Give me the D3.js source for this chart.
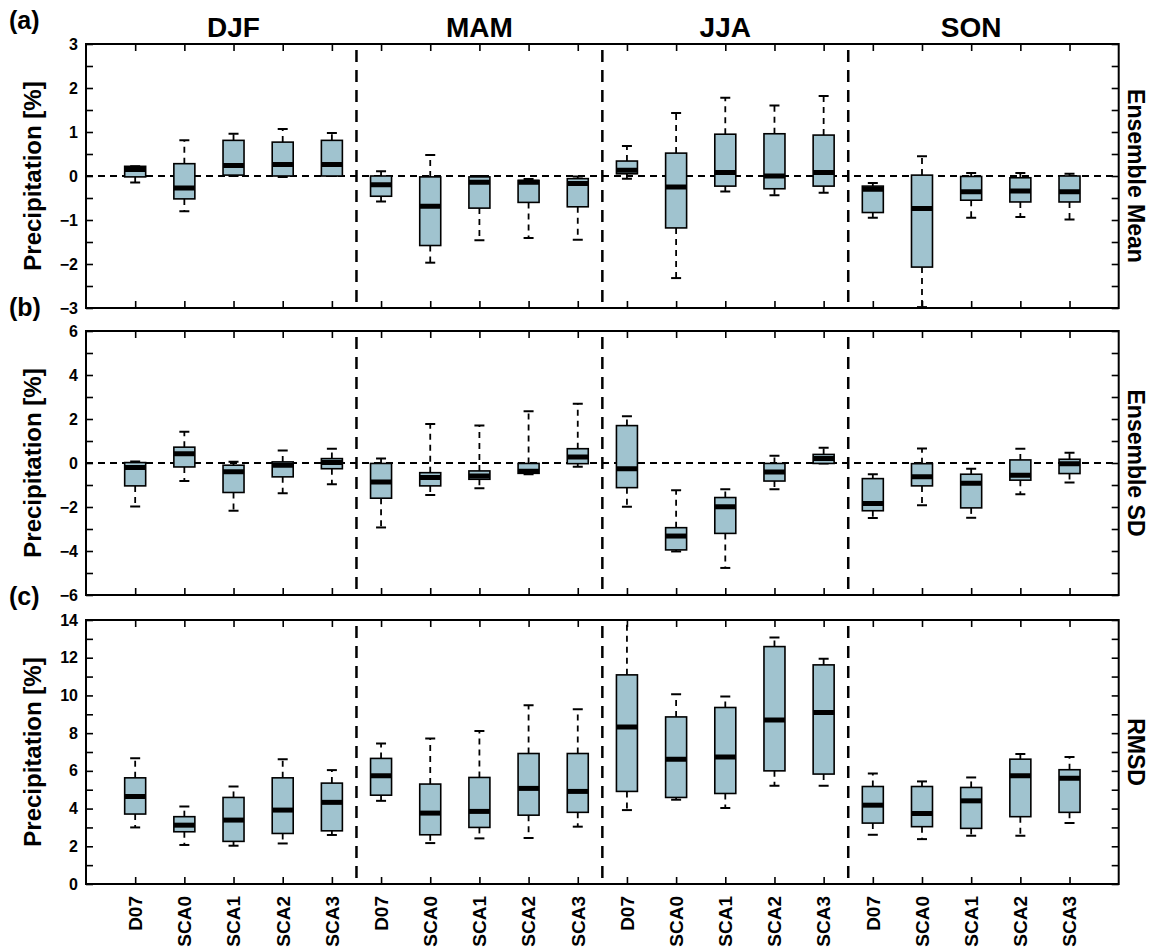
<!DOCTYPE html>
<html>
<head>
<meta charset="utf-8">
<script src="https://cdn.jsdelivr.net/npm/d3@7"></script>
<style>
  body { margin: 0; background: #fff; }
  svg text { font-family: "Liberation Sans", Arial, Helvetica, sans-serif; }
</style>
</head>
<body>
<svg id="chart" width="1151" height="948"></svg>
<script>
// models inside each season, seasons across the panel
var models = ["D07", "SCA0", "SCA1", "SCA2", "SCA3"];
var seasons = ["DJF", "MAM", "JJA", "SON"];
var panelTags = ["(a)", "(b)", "(c)"];
var sideLabels = ["Ensemble Mean", "Ensemble SD", "RMSD"];
var yTitle = "Precipitation [%]";

var ticksA = [-3, -2, -1, 0, 1, 2, 3];
var minorA = [-2.5, -1.5, -0.5, 0.5, 1.5, 2.5];
var ticksB = [-6, -4, -2, 0, 2, 4, 6];
var minorB = [-5, -3, -1, 1, 3, 5];
var ticksC = [0, 2, 4, 6, 8, 10, 12, 14];
var minorC = [1, 3, 5, 7, 9, 11, 13];

// each row: [min, q1, median, q3, max], DJF..SON x D07..SCA3
var ensMean = [
    [-0.15, -0.02, 0.15, 0.22, 0.22],
    [-0.80, -0.52, -0.27, 0.28, 0.81],
    [0.00, 0.02, 0.24, 0.81, 0.96],
    [-0.02, 0.00, 0.26, 0.77, 1.07],
    [0.00, 0.00, 0.26, 0.81, 0.98],

    [-0.58, -0.46, -0.20, 0.00, 0.11],
    [-1.97, -1.58, -0.69, -0.02, 0.48],
    [-1.46, -0.73, -0.14, -0.02, 0.00],
    [-1.41, -0.60, -0.14, -0.10, -0.07],
    [-1.45, -0.70, -0.17, -0.06, -0.01],

    [-0.06, 0.05, 0.13, 0.34, 0.68],
    [-2.32, -1.18, -0.25, 0.52, 1.43],
    [-0.35, -0.23, 0.08, 0.95, 1.78],
    [-0.44, -0.29, 0.00, 0.96, 1.60],
    [-0.38, -0.23, 0.08, 0.93, 1.82],

    [-0.95, -0.83, -0.30, -0.23, -0.16],
    [-2.98, -2.07, -0.74, 0.02, 0.45],
    [-0.95, -0.55, -0.36, -0.01, 0.07],
    [-0.93, -0.59, -0.34, -0.04, 0.07],
    [-0.99, -0.59, -0.36, 0.00, 0.05]
];

var ensSD = [
    [-1.98, -1.04, -0.21, 0.02, 0.07],
    [-0.82, -0.18, 0.42, 0.72, 1.42],
    [-2.17, -1.34, -0.40, -0.10, 0.06],
    [-1.37, -0.63, -0.10, 0.05, 0.57],
    [-0.97, -0.26, 0.02, 0.20, 0.65],

    [-2.93, -1.60, -0.86, -0.02, 0.20],
    [-1.46, -1.04, -0.66, -0.44, 1.77],
    [-1.15, -0.74, -0.59, -0.36, 1.70],
    [-0.51, -0.47, -0.38, -0.02, 2.35],
    [-0.17, -0.03, 0.27, 0.65, 2.69],

    [-1.99, -1.12, -0.26, 1.70, 2.13],
    [-4.02, -3.95, -3.32, -2.94, -1.24],
    [-4.77, -3.20, -1.99, -1.57, -1.19],
    [-1.19, -0.82, -0.41, -0.02, 0.33],
    [-0.02, -0.02, 0.20, 0.39, 0.69],

    [-2.50, -2.17, -1.84, -0.71, -0.51],
    [-1.92, -1.04, -0.62, -0.03, 0.66],
    [-2.49, -2.04, -0.92, -0.51, -0.26],
    [-1.42, -0.78, -0.56, 0.14, 0.65],
    [-0.89, -0.48, -0.03, 0.17, 0.47]
];

var rmsd = [
    [3.00, 3.71, 4.64, 5.63, 6.67],
    [2.07, 2.77, 3.12, 3.57, 4.11],
    [2.03, 2.26, 3.39, 4.59, 5.17],
    [2.15, 2.68, 3.92, 5.63, 6.62],
    [2.60, 2.82, 4.33, 5.35, 6.04],

    [4.41, 4.71, 5.74, 6.66, 7.45],
    [2.17, 2.61, 3.76, 5.30, 7.72],
    [2.42, 3.00, 3.85, 5.65, 8.12],
    [2.44, 3.65, 5.07, 6.92, 9.48],
    [3.04, 3.80, 4.91, 6.92, 9.27],

    [3.92, 4.91, 8.33, 11.09, 14.50],
    [4.47, 4.59, 6.62, 8.86, 10.06],
    [4.03, 4.80, 6.74, 9.36, 9.94],
    [5.21, 6.00, 8.70, 12.59, 13.07],
    [5.21, 5.83, 9.09, 11.62, 11.95],

    [2.61, 3.23, 4.18, 5.17, 5.86],
    [2.38, 3.04, 3.74, 5.17, 5.44],
    [2.56, 2.95, 4.41, 5.12, 5.65],
    [2.56, 3.57, 5.74, 6.62, 6.89],
    [3.23, 3.80, 5.61, 6.06, 6.74]
];

var panels = [
    { stats: ensMean, domain: [-3, 3], ticks: ticksA, minor: minorA, zero: true },
    { stats: ensSD, domain: [-6, 6], ticks: ticksB, minor: minorB, zero: true },
    { stats: rmsd, domain: [0, 14], ticks: ticksC, minor: minorC, zero: false }
];

var left = 86, right = 1118.7, tops = [44, 331, 620], ph = 264;
var boxW = 21, capW = 10, tickLen = 7;
var fill = "#a0c3cf";

var svg = d3.select("#chart");

var x = d3.scaleLinear().domain([0, models.length * seasons.length + 1]).range([left, right]);
var idx = d3.range(1, models.length * seasons.length + 1);

// season titles on top
svg.selectAll(".season")
    .data(seasons)
    .enter().append("text")
    .attr("x", function (d, i) { return x(i * 5 + 3); })
    .attr("y", 37)
    .attr("text-anchor", "middle")
    .style("font-size", "28px")
    .style("font-weight", "bold")
    .text(function (d) { return d; });

panels.forEach(function (p, pi) {
    var top = tops[pi];
    var y = d3.scaleLinear().domain(p.domain).range([top + ph, top]);
    var g = svg.append("g");

    g.append("clipPath").attr("id", "clip" + pi)
        .append("rect").attr("x", left).attr("y", top).attr("width", right - left).attr("height", ph);

    // zero line
    if (p.zero) {
        g.append("line")
            .attr("x1", left).attr("x2", right)
            .attr("y1", y(0)).attr("y2", y(0))
            .attr("stroke", "#000").attr("stroke-width", 2)
            .attr("stroke-dasharray", "7,5");
    }

    // season separators
    g.selectAll(".sep")
        .data([5.5, 10.5, 15.5])
        .enter().append("line")
        .attr("x1", function (d) { return x(d); })
        .attr("x2", function (d) { return x(d); })
        .attr("y1", top + 6).attr("y2", top + ph)
        .attr("stroke", "#000").attr("stroke-width", 2.5)
        .attr("stroke-dasharray", "12,8");

    // boxes
    var boxes = g.append("g").attr("clip-path", "url(#clip" + pi + ")")
        .selectAll(".box")
        .data(p.stats)
        .enter().append("g")
        .attr("transform", function (d, i) { return "translate(" + x(idx[i]) + ",0)"; });

    // whiskers (dashed)
    boxes.append("line")
        .attr("y1", function (d) { return y(d[3]); })
        .attr("y2", function (d) { return y(d[4]); })
        .attr("stroke", "#000").attr("stroke-width", 1.8).attr("stroke-dasharray", "6,5");
    boxes.append("line")
        .attr("y1", function (d) { return y(d[1]); })
        .attr("y2", function (d) { return y(d[0]); })
        .attr("stroke", "#000").attr("stroke-width", 1.8).attr("stroke-dasharray", "6,5");
    // caps
    boxes.append("line")
        .attr("x1", -capW / 2).attr("x2", capW / 2)
        .attr("y1", function (d) { return y(d[4]); })
        .attr("y2", function (d) { return y(d[4]); })
        .attr("stroke", "#000").attr("stroke-width", 2);
    boxes.append("line")
        .attr("x1", -capW / 2).attr("x2", capW / 2)
        .attr("y1", function (d) { return y(d[0]); })
        .attr("y2", function (d) { return y(d[0]); })
        .attr("stroke", "#000").attr("stroke-width", 2);

    boxes.append("rect")
        .attr("x", -boxW / 2).attr("width", boxW)
        .attr("y", function (d) { return y(d[3]); })
        .attr("height", function (d) { return Math.max(y(d[1]) - y(d[3]), 1); })
        .attr("fill", fill).attr("stroke", "#000").attr("stroke-width", 1.6);

    // median
    boxes.append("line")
        .attr("x1", -boxW / 2).attr("x2", boxW / 2)
        .attr("y1", function (d) { return y(d[2]); })
        .attr("y2", function (d) { return y(d[2]); })
        .attr("stroke", "#000").attr("stroke-width", 5);

    // axes, ticks pointing inward
    var yl = g.append("g").attr("transform", "translate(" + left + ",0)")
        .call(d3.axisLeft(y).tickValues(p.ticks).tickSize(-tickLen).tickSizeOuter(0)
            .tickPadding(8).tickFormat(d3.format("d")));
    g.append("g").attr("transform", "translate(" + left + ",0)")
        .call(d3.axisLeft(y).tickValues(p.minor).tickSize(-tickLen).tickSizeOuter(0).tickFormat(""));
    g.append("g").attr("transform", "translate(" + right + ",0)")
        .call(d3.axisRight(y).tickValues(p.ticks.concat(p.minor)).tickSize(-tickLen).tickSizeOuter(0).tickFormat(""));
    g.append("g").attr("transform", "translate(0," + top + ")")
        .call(d3.axisTop(x).tickValues(idx).tickSize(-tickLen).tickSizeOuter(0).tickFormat(""));
    g.append("g").attr("transform", "translate(0," + (top + ph) + ")")
        .call(d3.axisBottom(x).tickValues(idx).tickSize(-tickLen).tickSizeOuter(0).tickFormat(""));

    g.selectAll(".tick line").attr("stroke", "#000").attr("stroke-width", 1.6);
    g.selectAll(".domain").remove();
    yl.selectAll("text")
        .style("font-size", "16px").style("font-weight", "bold")
        .attr("fill", "#000");

    // frame
    g.append("rect")
        .attr("x", left).attr("y", top)
        .attr("width", right - left).attr("height", ph)
        .attr("fill", "none").attr("stroke", "#000").attr("stroke-width", 2);

    // titles
    g.append("text")
        .attr("transform", "translate(41," + (top + ph / 2) + ") rotate(-90)")
        .attr("text-anchor", "middle")
        .style("font-size", "24px").style("font-weight", "bold")
        .text(yTitle);
    g.append("text")
        .attr("transform", "translate(1128," + (top + ph / 2) + ") rotate(90)")
        .attr("text-anchor", "middle")
        .style("font-size", "23px").style("font-weight", "bold")
        .text(sideLabels[pi]);
    g.append("text")
        .attr("x", 9).attr("y", top - 15)
        .style("font-size", "25px").style("font-weight", "bold")
        .text(panelTags[pi]);
});

// model names under the last panel
svg.selectAll(".model")
    .data(idx)
    .enter().append("text")
    .attr("transform", function (d) { return "translate(" + x(d) + ",896) rotate(-90)"; })
    .attr("text-anchor", "end")
    .attr("dy", "0.36em")
    .style("font-size", "19px")
    .style("font-weight", "bold")
    .text(function (d, i) { return models[i % models.length]; });
</script>
</body>
</html>
